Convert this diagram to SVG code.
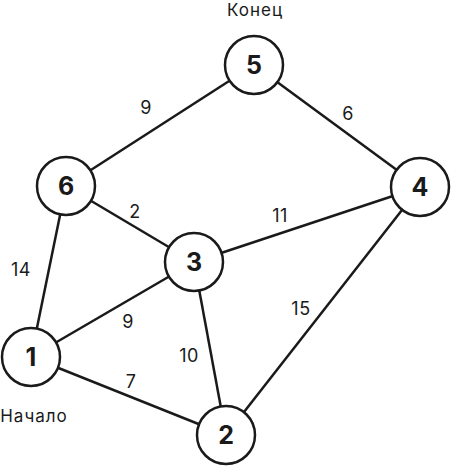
<svg xmlns="http://www.w3.org/2000/svg" width="456" height="469" viewBox="0 0 456 469">
<style>
.e{stroke:#1a1a1a;stroke-width:2.5;fill:none}
.n circle{fill:#fff;stroke:#1a1a1a;stroke-width:2.5}
.n text{font-family:"Inter","Noto Sans",sans-serif;font-weight:700;font-size:25px;fill:#1a1a1a;text-anchor:middle;dominant-baseline:central}
.l{font-family:"Inter","Noto Sans",sans-serif;font-size:18px;fill:#1a1a1a;text-anchor:middle;dominant-baseline:central;letter-spacing:0.5px}
.w{font-family:"Inter","Noto Sans",sans-serif;font-size:17px;fill:#1a1a1a;text-anchor:middle;dominant-baseline:central;letter-spacing:1px}
</style>
<rect width="456" height="469" fill="#fff"/>
<g id="edges">
<line class="e" x1="254" y1="65" x2="66" y2="186"/>
<line class="e" x1="254" y1="65" x2="420" y2="187"/>
<line class="e" x1="66" y1="186" x2="194" y2="262"/>
<line class="e" x1="66" y1="186" x2="31" y2="357"/>
<line class="e" x1="420" y1="187" x2="194" y2="262"/>
<line class="e" x1="420" y1="187" x2="226" y2="435"/>
<line class="e" x1="194" y1="262" x2="31" y2="357"/>
<line class="e" x1="194" y1="262" x2="226" y2="435"/>
<line class="e" x1="31" y1="357" x2="226" y2="435"/>
</g>
<g id="node5" class="n"><circle cx="254" cy="65" r="29"/><text x="254" y="65">5</text></g>
<g id="node6" class="n"><circle cx="66" cy="186" r="29"/><text x="66" y="186">6</text></g>
<g id="node4" class="n"><circle cx="420" cy="187" r="29"/><text x="420" y="187">4</text></g>
<g id="node3" class="n"><circle cx="194" cy="262" r="29"/><text x="194" y="262">3</text></g>
<g id="node1" class="n"><circle cx="31" cy="357" r="29"/><text x="31" y="357">1</text></g>
<g id="node2" class="n"><circle cx="226" cy="435" r="29"/><text x="226" y="435">2</text></g>
<g id="labels">
<text class="w" x="255" y="10">Конец</text>
<text class="w" x="34" y="416">Начало</text>
<text class="l" x="146" y="107">9</text>
<text class="l" x="348" y="113">6</text>
<text class="l" x="135" y="211">2</text>
<text class="l" x="280" y="215">11</text>
<text class="l" x="21" y="269">14</text>
<text class="l" x="128" y="321">9</text>
<text class="l" x="301" y="308">15</text>
<text class="l" x="189" y="355">10</text>
<text class="l" x="131" y="381">7</text>
</g>
</svg>
